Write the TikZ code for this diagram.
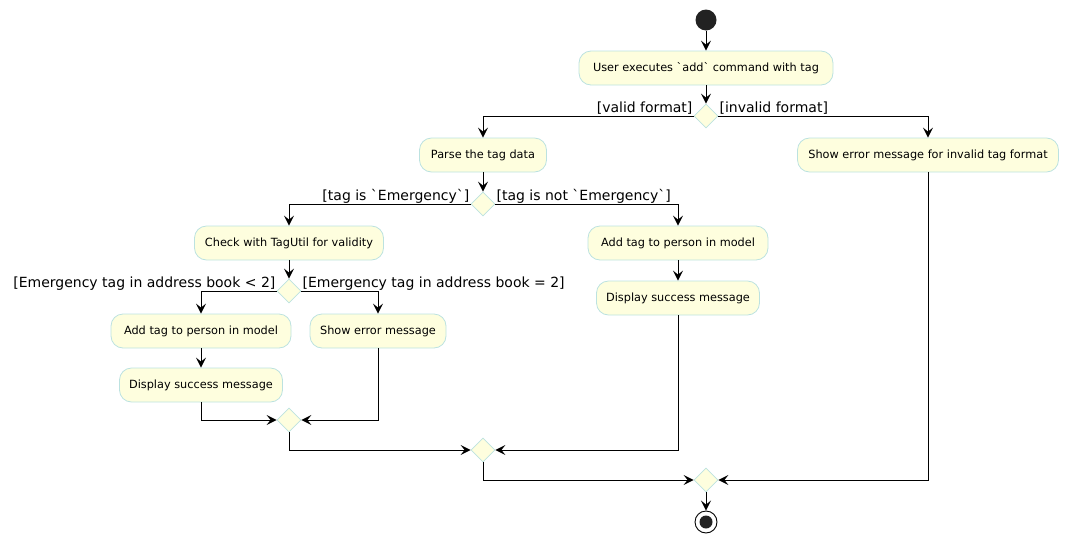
\documentclass[tikz,border=0pt]{standalone}
\usepackage{fontspec}
\newfontfamily\dv{DejaVu Sans}
\usetikzlibrary{arrows.meta,shapes.geometric}
\definecolor{boxfill}{RGB}{254,254,222}
\definecolor{boxline}{RGB}{188,226,224}
\definecolor{dotfill}{RGB}{34,34,34}
\begin{document}
\begin{tikzpicture}[x=1pt,y=-1pt,
  act/.style={draw=boxline, fill=boxfill, line width=0.8pt, rounded corners=12pt,
    minimum height=34pt, inner sep=0pt, font=\dv\fontsize{11.3}{13}\selectfont},
  dec/.style={draw=boxline, fill=boxfill, line width=0.8pt, diamond, aspect=1,
    minimum width=24pt, minimum height=24pt, inner sep=0pt},
  lab/.style={inner xsep=1pt, inner ysep=0pt, font=\dv\fontsize{14}{16}\selectfont},
  arr/.style={draw=black, line width=1pt, -{Stealth[length=10pt,width=10pt,inset=4pt]}},
  ln/.style={draw=black, line width=1pt}
]
\useasboundingbox (0,0) rectangle (1069,544);
% start / end
\node[circle, fill=dotfill, minimum size=21pt, inner sep=0pt] (start) at (706,20) {};
\node[circle, draw=black, line width=0.9pt, minimum size=22pt, inner sep=0pt] (end) at (706,522) {};
\node[circle, fill=dotfill, minimum size=13pt, inner sep=0pt] (endin) at (706,522) {};
% activities
\node[act, minimum width=254pt] (b1) at (706,68) {User executes `add` command with tag};
\node[dec] (d1) at (706,116) {};
\node[act, minimum width=127pt] (parse) at (483,155) {Parse the tag data};
\node[act, minimum width=261pt] (err1) at (928,155) {Show error message for invalid tag format};
\node[dec] (d2) at (483,204) {};
\node[act, minimum width=189pt] (check) at (289,243) {Check with TagUtil for validity};
\node[act, minimum width=180pt] (addR) at (678,243) {Add tag to person in model};
\node[act, minimum width=163pt] (dispR) at (678,298) {Display success message};
\node[dec] (d3) at (289,291) {};
\node[act, minimum width=180pt] (addL) at (201,331) {Add tag to person in model};
\node[act, minimum width=136pt] (showerr) at (378,331) {Show error message};
\node[act, minimum width=163pt] (dispL) at (201,385) {Display success message};
\node[dec] (d4) at (289,420) {};
\node[dec] (d5) at (483,450) {};
\node[dec] (d6) at (706,480) {};
% guard labels
\node[lab, anchor=base east] (l1) at ([yshift=4pt]d1.west) {[valid format]};
\node[lab, anchor=base west] (l2) at ([yshift=4pt]d1.east) {[invalid format]};
\node[lab, anchor=base east] (l3) at ([yshift=4pt]d2.west) {[tag is `Emergency`]};
\node[lab, anchor=base west] (l4) at ([yshift=4pt]d2.east) {[tag is not `Emergency`]};
\node[lab, anchor=base east] (l5) at ([yshift=4pt]d3.west) {[Emergency tag in address book < 2]};
\node[lab, anchor=base west] (l6) at ([yshift=4pt]d3.east) {[Emergency tag in address book = 2]};
% connectors
\draw[arr] (start) -- (b1);
\draw[arr] (b1) -- (d1);
\draw[arr] (d1.west) -| (parse);
\draw[arr] (d1.east) -| (err1);
\draw[arr] (parse) -- (d2);
\draw[arr] (d2.west) -| (check);
\draw[arr] (d2.east) -| (addR);
\draw[arr] (addR) -- (dispR);
\draw[arr] (check) -- (d3);
\draw[arr] (d3.west) -| (addL);
\draw[arr] (d3.east) -| (showerr);
\draw[arr] (addL) -- (dispL);
\draw[arr] (dispL.south) |- (d4.west);
\draw[arr] (showerr.south) |- (d4.east);
\draw[arr] (d4.south) |- (d5.west);
\draw[arr] (dispR.south) |- (d5.east);
\draw[arr] (d5.south) |- (d6.west);
\draw[arr] (err1.south) |- (d6.east);
\draw[arr] (d6) -- (end);
\end{tikzpicture}
\end{document}
